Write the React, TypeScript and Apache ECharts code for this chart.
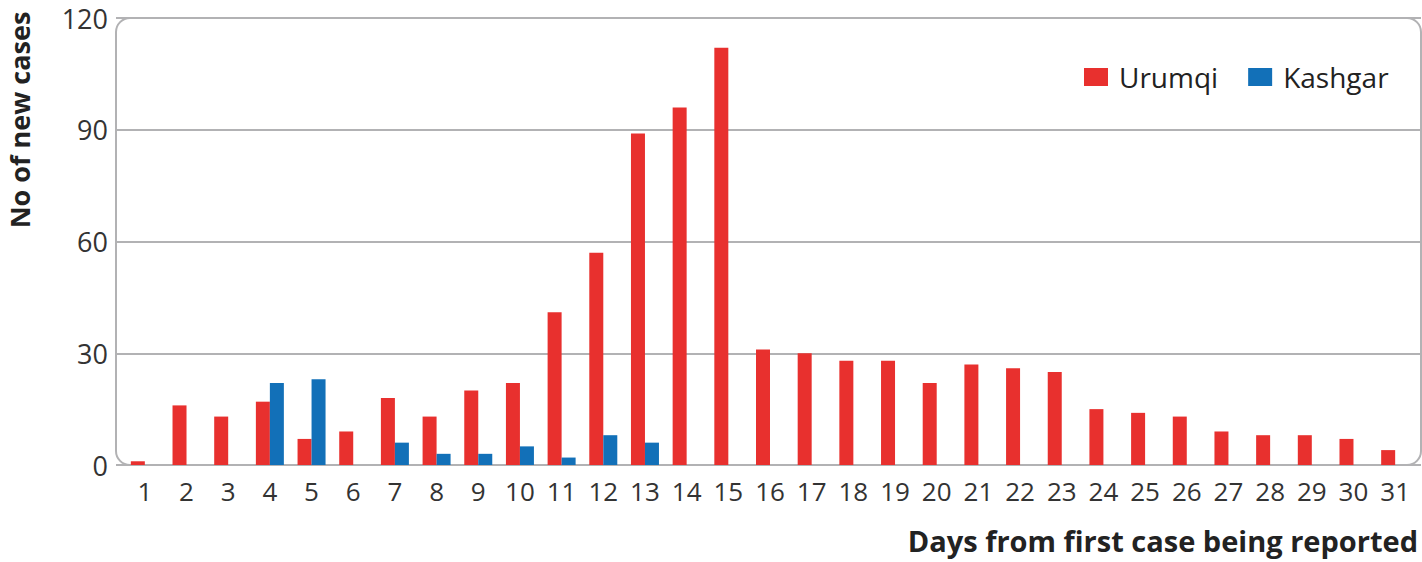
import React, { useEffect, useRef } from "react";
import * as echarts from "echarts";

const days = ["1","2","3","4","5","6","7","8","9","10","11","12","13","14","15","16","17","18","19","20","21","22","23","24","25","26","27","28","29","30","31"];
const urumqi = [1,16,13,17,7,9,18,13,20,22,41,57,89,96,112,31,30,28,28,22,27,26,25,15,14,13,9,8,8,7,4];
const kashgar = [0,0,0,22,23,0,6,3,3,5,2,8,6,0,0,0,0,0,0,0,0,0,0,0,0,0,0,0,0,0,0];
const yTicks = { min: 0, max: 120, interval: 30 };

const FONT = "'Open Sans', Lato, sans-serif";
const RED = "#E8302E";
const BLUE = "#1270B8";
const GRID = "#b2b2b4";

export default function App() {
  const ref = useRef<HTMLDivElement>(null);
  useEffect(() => {
    if (!ref.current) return;
    const chart = echarts.init(ref.current, null, { renderer: "svg" });
    chart.setOption({
      animation: false,
      textStyle: { fontFamily: FONT },
      grid: [
        { left: 116, top: 18, width: 1305, height: 447 },
        { left: 124, top: 18, width: 1292, height: 447 },
      ],
      legend: {
        left: 1079,
        top: 58,
        itemWidth: 24,
        itemHeight: 18,
        itemGap: 30,
        icon: "rect",
        textStyle: { fontSize: 28, color: "#222", fontFamily: FONT, padding: [0, 0, 0, 6] },
        data: ["Urumqi", "Kashgar"],
      },
      xAxis: [
        { gridIndex: 0, type: "category", data: days, show: false },
        {
          gridIndex: 1,
          type: "category",
          data: days,
          axisLine: { show: false },
          axisTick: { show: false },
          axisLabel: { fontSize: 26, color: "#333", margin: 13, fontFamily: FONT, interval: 0 },
        },
      ],
      yAxis: [
        {
          gridIndex: 0,
          type: "value",
          min: yTicks.min,
          max: yTicks.max,
          interval: yTicks.interval,
          axisLine: { show: false },
          axisTick: { show: false },
          axisLabel: { fontSize: 27, color: "#333", margin: 8, fontFamily: FONT },
          splitLine: { lineStyle: { color: GRID, width: 2 } },
        },
        {
          gridIndex: 1,
          type: "value",
          min: yTicks.min,
          max: yTicks.max,
          interval: yTicks.interval,
          show: false,
          splitLine: { show: false },
        },
      ],
      graphic: [
        {
          type: "rect",
          z: 0,
          shape: { x: 116, y: 18, width: 1305, height: 447, r: 14 },
          style: { fill: "none", stroke: GRID, lineWidth: 2 },
        },
        {
          type: "text",
          x: 19,
          y: 120,
          rotation: Math.PI / 2,
          style: {
            text: "No of new cases",
            fontSize: 27,
            fontWeight: "bold",
            fontFamily: FONT,
            fill: "#222",
            align: "center",
            verticalAlign: "middle",
          },
        },
        {
          type: "text",
          x: 1418,
          y: 540,
          style: {
            text: "Days from first case being reported",
            fontSize: 29,
            fontWeight: "bold",
            fontFamily: FONT,
            fill: "#222",
            align: "right",
            verticalAlign: "middle",
          },
        },
      ],
      series: [
        {
          name: "Urumqi",
          type: "bar",
          xAxisIndex: 1,
          yAxisIndex: 1,
          data: urumqi,
          barWidth: 14,
          barGap: "0%",
          itemStyle: { color: RED },
          z: 3,
        },
        {
          name: "Kashgar",
          type: "bar",
          xAxisIndex: 1,
          yAxisIndex: 1,
          data: kashgar,
          barWidth: 14,
          barGap: "0%",
          itemStyle: { color: BLUE },
          z: 3,
        },
      ],
    });
    return () => chart.dispose();
  }, []);
  return (
    <div
      ref={ref}
      style={{ position: "absolute", left: 0, top: 0, width: 1422, height: 562, background: "#fff" }}
    />
  );
}
